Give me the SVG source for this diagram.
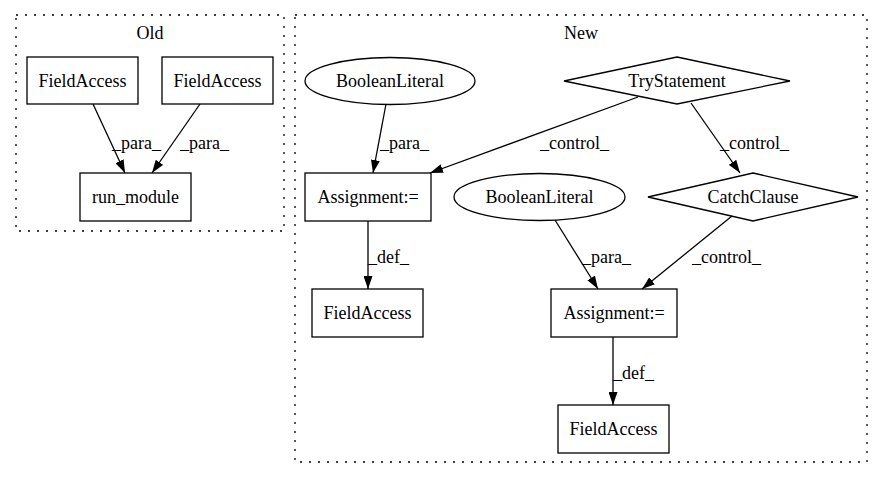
<svg xmlns="http://www.w3.org/2000/svg" width="884" height="480" viewBox="0 0 884 480">
  <style>
    text { font-family: "Liberation Serif", "Times New Roman", "DejaVu Serif", serif; font-size: 18px; fill: #000; }
    .mid { text-anchor: middle; }
    .shape { fill: none; stroke: #000; stroke-width: 1.3; }
    .cluster { fill: none; stroke: #000; stroke-width: 1.3; stroke-dasharray: 2,7; }
    .edge { fill: none; stroke: #000; stroke-width: 1.3; marker-end: url(#arrow); }
  </style>
  <defs>
    <marker id="arrow" viewBox="0 0 13 9" refX="13" refY="4.5" markerWidth="13" markerHeight="9" markerUnits="userSpaceOnUse" orient="auto">
      <path d="M0,0 L13,4.5 L0,9 z" fill="#000"/>
    </marker>
  </defs>
  <rect width="884" height="480" fill="#fff"/>

  <g font-family="Liberation Serif, Times New Roman, serif" font-size="18">
  <!-- clusters -->
  <g id="cluster_old">
    <rect class="cluster" x="16" y="15" width="268" height="216"/>
    <text class="mid" x="150" y="39">Old</text>
  </g>
  <g id="cluster_new">
    <rect class="cluster" x="295" y="15" width="572" height="447"/>
    <text class="mid" x="581" y="39">New</text>
  </g>

  <!-- Old nodes -->
  <g id="old_fa1">
    <rect class="shape" x="27" y="57" width="111" height="47"/>
    <text class="mid" x="82.5" y="87">FieldAccess</text>
  </g>
  <g id="old_fa2">
    <rect class="shape" x="162" y="57" width="111" height="47"/>
    <text class="mid" x="217.5" y="87">FieldAccess</text>
  </g>
  <g id="old_run_module">
    <rect class="shape" x="80" y="173" width="111" height="48"/>
    <text class="mid" x="135.5" y="203">run_module</text>
  </g>

  <!-- New nodes -->
  <g id="new_bool1">
    <ellipse class="shape" cx="390" cy="81" rx="85" ry="23.5"/>
    <text class="mid" x="390" y="87">BooleanLiteral</text>
  </g>
  <g id="new_try">
    <polygon class="shape" points="677,57 790,81 677,104 564,81"/>
    <text class="mid" x="677" y="87">TryStatement</text>
  </g>
  <g id="new_assign1">
    <rect class="shape" x="305" y="173" width="126" height="48"/>
    <text class="mid" x="368" y="203">Assignment:=</text>
  </g>
  <g id="new_bool2">
    <ellipse class="shape" cx="539.5" cy="197" rx="85.5" ry="23.5"/>
    <text class="mid" x="539.5" y="203">BooleanLiteral</text>
  </g>
  <g id="new_catch">
    <polygon class="shape" points="753,173 858,197 753,221 648,197"/>
    <text class="mid" x="753" y="203">CatchClause</text>
  </g>
  <g id="new_fa1">
    <rect class="shape" x="312" y="289" width="111" height="48"/>
    <text class="mid" x="367.5" y="319">FieldAccess</text>
  </g>
  <g id="new_assign2">
    <rect class="shape" x="551" y="289" width="126" height="48"/>
    <text class="mid" x="614" y="319">Assignment:=</text>
  </g>
  <g id="new_fa2">
    <rect class="shape" x="558" y="405" width="111" height="48"/>
    <text class="mid" x="613.5" y="435">FieldAccess</text>
  </g>

  <!-- connectors -->
  <g id="edges">
    <path class="edge" d="M93,104 L125,173"/>
    <text x="112" y="149">_para_</text>
    <path class="edge" d="M200,104 L152,173"/>
    <text x="180" y="149">_para_</text>

    <path class="edge" d="M386,104 L373,173"/>
    <text x="380" y="149">_para_</text>
    <path class="edge" d="M638,97 L430,173"/>
    <text x="540" y="149">_control_</text>
    <path class="edge" d="M691,103 L740,173"/>
    <text x="720" y="149">_control_</text>

    <path class="edge" d="M555,220 L598,289"/>
    <text x="582" y="263">_para_</text>
    <path class="edge" d="M732,216 L642,289"/>
    <text x="692" y="263">_control_</text>

    <path class="edge" d="M368,221 L368,289"/>
    <text x="368" y="263">_def_</text>
    <path class="edge" d="M613,337 L613,405"/>
    <text x="613" y="379">_def_</text>
  </g>
  </g>
</svg>
